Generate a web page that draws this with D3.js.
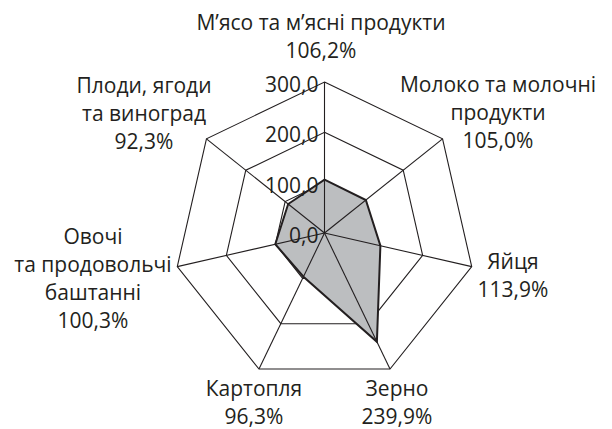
<!DOCTYPE html>
<html>
<head>
<meta charset="utf-8">
<script src="https://cdn.jsdelivr.net/npm/d3@7"></script>
<style>
  body { margin: 0; background: #fff; }
  text { font-family: "Open Sans", sans-serif; fill: #231f20; }
</style>
</head>
<body>
<script>
const WIDTH = 612;
const HEIGHT = 429;
const CX = 324.5;
const CY = 233;
const RADIUS = 151;
const FONT = 21;
const LINE = 28;

// clockwise from the top
const categories = [
  ["М’ясо та м’ясні продукти"],
  ["Молоко та молочні", "продукти"],
  ["Яйця"],
  ["Зерно"],
  ["Картопля"],
  ["Овочі", "та продовольчі", "баштанні"],
  ["Плоди, ягоди", "та виноград"]
];
const values = [106.2, 105.0, 113.9, 239.9, 96.3, 100.3, 92.3];
const valueLabels = ["106,2%", "105,0%", "113,9%", "239,9%", "96,3%", "100,3%", "92,3%"];
const ticks = [0, 100, 200, 300];
const tickLabels = ["0,0", "100,0", "200,0", "300,0"];

// label anchor: centre x, first baseline y
const labelPos = [
  [321, 30], [498, 92], [513, 269], [397, 396],
  [254, 396], [93, 244], [144, 93]
];

const svg = d3.select("body").append("svg")
  .attr("width", WIDTH).attr("height", HEIGHT);

const r = d3.scaleLinear().domain([0, 300]).range([0, RADIUS]);
const angle = i => i * 2 * Math.PI / categories.length;
const pt = (i, v) => [CX + r(v) * Math.sin(angle(i)), CY - r(v) * Math.cos(angle(i))];

const g = svg.append("g");

// grid rings
ticks.slice(1).forEach(t => {
  g.append("path")
    .attr("d", d3.line()(categories.map((c, i) => pt(i, t))) + "Z")
    .attr("fill", "none")
    .attr("stroke", "#231f20")
    .attr("stroke-width", 1.1);
});

// data
g.append("path")
  .attr("d", d3.line()(values.map((v, i) => pt(i, v))) + "Z")
  .attr("fill", "#bcbec0")
  .attr("stroke", "#231f20")
  .attr("stroke-width", 2)
  .attr("stroke-linejoin", "miter");

// spokes
categories.forEach((c, i) => {
  const [x, y] = pt(i, 300);
  g.append("line")
    .attr("x1", CX).attr("y1", CY)
    .attr("x2", x).attr("y2", y)
    .attr("stroke", "#231f20")
    .attr("stroke-width", 1.1);
});

// tick labels
ticks.forEach((t, k) => {
  g.append("text")
    .attr("x", CX - 6)
    .attr("y", CY - r(t) + 10)
    .attr("text-anchor", "end")
    .attr("font-size", FONT)
    .text(tickLabels[k]);
});

// category labels
categories.forEach((c, i) => {
  const [x, y] = labelPos[i];
  const txt = g.append("text")
    .attr("text-anchor", "middle")
    .attr("font-size", FONT);
  c.concat([valueLabels[i]]).forEach((line, j) => {
    txt.append("tspan")
      .attr("x", x)
      .attr("y", y + j * LINE)
      .text(line);
  });
});
</script>
</body>
</html>
